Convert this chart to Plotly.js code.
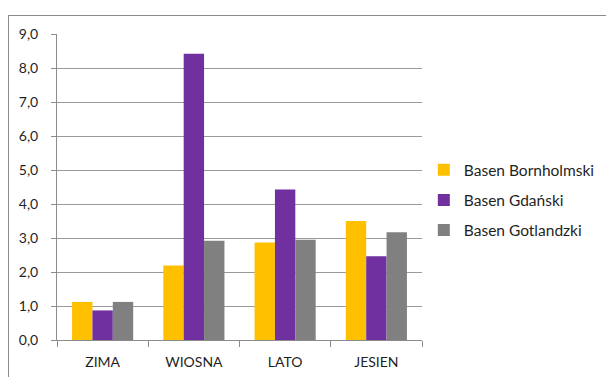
<!DOCTYPE html>
<html>
<head>
<meta charset="utf-8">
<script src="https://cdn.plot.ly/plotly-3.0.1.min.js"></script>
<style>
  html, body { margin: 0; padding: 0; background: #fff; overflow: hidden; }
  #frame { position: absolute; left: 8px; top: 15px; width: 598px; height: 362px; overflow: hidden;
           border-left: 1px solid #8c8c8c; border-top: 1px solid #8c8c8c; }
  #chart { width: 640px; height: 361px; }
</style>
</head>
<body>
<div id="frame"><div id="chart"></div></div>
<script>
const categories = ["ZIMA", "WIOSNA", "LATO", "JESIEN"];
const seriesNames = ["Basen Bornholmski", "Basen Gdański", "Basen Gotlandzki"];
const bornholmski = [1.12, 2.19, 2.87, 3.50];
const gdanski = [0.87, 8.42, 4.43, 2.46];
const gotlandzki = [1.12, 2.92, 2.95, 3.17];
const colors = ["#FFC000", "#7030A0", "#808080"];

const values = [bornholmski, gdanski, gotlandzki];
const traces = values.map((v, i) => ({
  type: "bar",
  name: seriesNames[i],
  x: categories,
  y: v,
  legendgroup: "g" + i,
  marker: { color: colors[i], line: { width: 0 } },
  hoverinfo: "x+y+name"
}));

const font = "Lato, 'Open Sans', 'DejaVu Sans', sans-serif";
const layout = {
  width: 640, height: 361,
  margin: { l: 48, r: 227, t: 18, b: 37, pad: 0 },
  paper_bgcolor: "#ffffff",
  plot_bgcolor: "#ffffff",
  separators: ", ",
  barmode: "group",
  bargap: 0.33,
  bargroupgap: 0,
  font: { family: font, size: 14, color: "#1f1f1f" },
  showlegend: true,
  legend: {
    x: 1.005, xanchor: "left", y: 0.457, yanchor: "middle",
    font: { family: font, size: 15.5, color: "#1f1f1f" },
    traceorder: "grouped",
    tracegroupgap: 7,
    bgcolor: "rgba(0,0,0,0)"
  },
  xaxis: {
    type: "category",
    showgrid: false,
    showline: true, linecolor: "#8c8c8c", linewidth: 1,
    ticks: "outside", tickson: "boundaries", ticklen: 6, tickcolor: "#8c8c8c",
    ticklabelstandoff: 9,
    tickfont: { family: font, size: 14, color: "#1f1f1f" },
    fixedrange: true
  },
  yaxis: {
    range: [0, 9],
    dtick: 1, tick0: 0,
    tickformat: ".1f",
    showgrid: true, gridcolor: "#9a9a9a", gridwidth: 1,
    showline: true, linecolor: "#8c8c8c", linewidth: 1,
    ticks: "outside", ticklen: 5, tickcolor: "#8c8c8c",
    ticklabelstandoff: 10,
    tickfont: { family: font, size: 14, color: "#1f1f1f" },
    zeroline: false,
    fixedrange: true
  }
};

Plotly.newPlot("chart", traces, layout, { displayModeBar: false, staticPlot: true });
</script>
</body>
</html>
